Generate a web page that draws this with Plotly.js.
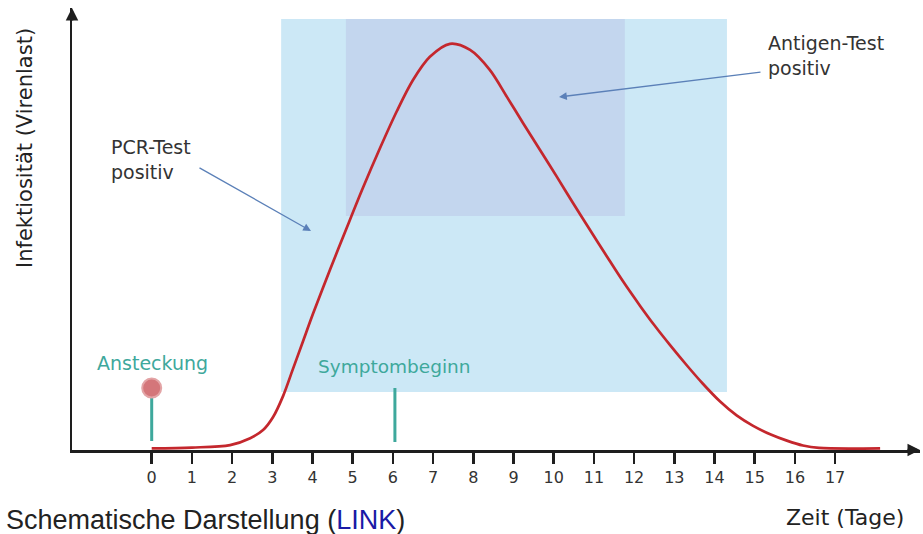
<!DOCTYPE html>
<html>
<head>
<meta charset="utf-8">
<script src="https://cdn.plot.ly/plotly-3.0.1.min.js"></script>
<style>html,body{margin:0;padding:0;background:#fff;}#chart{width:923px;height:534px;}</style>
</head>
<body>
<div id="chart"></div>
<script>
// ---- data ----
const days = [0, 1.0, 1.95, 2.45, 2.77, 3.02, 3.27, 3.51, 3.76, 4.01, 4.44, 4.86, 5.25, 5.68, 6.10, 6.50, 6.92, 7.42, 7.92, 8.41, 8.84, 9.24, 9.66, 10.08, 10.48, 10.9, 11.32, 11.72, 12.15, 12.5, 12.9, 13.32, 13.7, 14.14, 14.55, 14.95, 15.4, 15.8, 16.2, 16.6, 18.12];
const viralLoad = [0.4, 0.6, 1.2, 2.9, 4.9, 8.1, 13.3, 19.8, 26.6, 33.4, 44.4, 54.8, 64.3, 74.2, 83.3, 90.9, 96.6, 99.8, 98.3, 93.4, 86.7, 80.3, 73.7, 67.1, 60.7, 54.1, 47.6, 41.5, 35.4, 30.7, 25.7, 20.7, 16.4, 11.9, 8.5, 6.0, 3.8, 2.3, 1.1, 0.5, 0.4];
const tickDays = [0,1,2,3,4,5,6,7,8,9,10,11,12,13,14,15,16,17];
const tickLabels = tickDays.map(String);
const pcrWindow = [3.22, 14.31];      // days, PCR test positive
const antigenWindow = [4.83, 11.77];  // days, antigen test positive
const infectionDay = [0];
const symptomOnsetDay = [6.05];

// ---- geometry helpers (pixel -> data / paper) ----
const X0 = 151.7, DX = 40.2, AX_Y = 450, DY = 4.07;
const px2x = p => (p - X0) / DX;
const py2y = p => (AX_Y - p) / DY;
const PL = 72, PW = 848, PT = 8, PH = 442;
const px2p = p => (p - PL) / PW;
const py2p = p => (PT + PH - p) / PH;

const teal = '#3ea89c';
const txt = '#333333';
const F = 'DejaVu Sans, Verdana, sans-serif';

const traces = [
  { x: days, y: viralLoad, mode: 'lines', line: {color: '#c4272d', width: 2.7, shape: 'spline', smoothing: 0.9}, hoverinfo: 'skip' },
  { x: [infectionDay[0], infectionDay[0]], y: [py2y(398), py2y(441)], mode: 'lines', line: {color: teal, width: 3}, hoverinfo: 'skip' },
  { x: [symptomOnsetDay[0], symptomOnsetDay[0]], y: [py2y(388), py2y(442)], mode: 'lines', line: {color: teal, width: 3}, hoverinfo: 'skip' },
  { x: infectionDay, y: [py2y(388)], mode: 'markers', marker: {size: 19, color: '#d4767a', line: {color: '#e3a4a6', width: 2}}, hoverinfo: 'skip' }
];

const layout = {
  width: 923, height: 534,
  margin: {l: PL, r: 923 - PL - PW, t: PT, b: 534 - PT - PH},
  paper_bgcolor: '#ffffff', plot_bgcolor: '#ffffff',
  showlegend: false,
  xaxis: {
    range: [px2x(PL), px2x(PL + PW)], showgrid: false, zeroline: false,
    showline: true, linecolor: '#1e1e1e', linewidth: 2.5,
    ticks: 'outside', ticklen: 11, tickwidth: 2.5, tickcolor: '#1e1e1e',
    tickvals: tickDays, ticktext: tickLabels,
    tickfont: {family: F, size: 16, color: txt}
  },
  yaxis: {
    range: [0, py2y(PT)], showgrid: false, zeroline: false,
    showline: true, linecolor: '#1e1e1e', linewidth: 2.5,
    showticklabels: false, ticks: ''
  },
  shapes: [
    { type: 'rect', layer: 'below', xref: 'x', yref: 'y', x0: pcrWindow[0], x1: pcrWindow[1], y0: py2y(392), y1: py2y(19), fillcolor: '#cce8f6', line: {width: 0} },
    { type: 'rect', layer: 'below', xref: 'x', yref: 'y', x0: antigenWindow[0], x1: antigenWindow[1], y0: py2y(216), y1: py2y(19), fillcolor: '#c3d6ee', line: {width: 0} }
  ],
  annotations: [
    // axis arrowheads
    { x: 1, y: 0, xref: 'paper', yref: 'paper', ax: -14, ay: 0, text: '', showarrow: true, arrowhead: 2, arrowsize: 1, arrowwidth: 2.5, arrowcolor: '#1e1e1e' },
    { x: 0, y: 1, xref: 'paper', yref: 'paper', ax: 0, ay: 14, text: '', showarrow: true, arrowhead: 2, arrowsize: 1, arrowwidth: 2.5, arrowcolor: '#1e1e1e' },
    // pointer arrows
    { x: px2x(311), y: py2y(231), axref: 'x', ayref: 'y', ax: px2x(198), ay: py2y(167), text: '', showarrow: true, arrowhead: 2, arrowsize: 1.2, arrowwidth: 1.3, arrowcolor: '#5b80b8' },
    { x: px2x(559), y: py2y(97), axref: 'x', ayref: 'y', ax: px2x(762), ay: py2y(72), text: '', showarrow: true, arrowhead: 2, arrowsize: 1.2, arrowwidth: 1.3, arrowcolor: '#5b80b8' },
    // labels
    { x: px2x(109), y: py2y(159), xanchor: 'left', yanchor: 'middle', align: 'left', text: 'PCR-Test<br>positiv', showarrow: false, font: {family: F, size: 19, color: txt} },
    { x: px2x(766), y: py2y(55), xanchor: 'left', yanchor: 'middle', align: 'left', text: 'Antigen-Test<br>positiv', showarrow: false, font: {family: F, size: 19, color: txt} },
    { x: px2x(152), y: py2y(363), xanchor: 'center', yanchor: 'middle', text: 'Ansteckung', showarrow: false, font: {family: F, size: 19, color: teal} },
    { x: px2x(394), y: py2y(366), xanchor: 'center', yanchor: 'middle', text: 'Symptombeginn', showarrow: false, font: {family: F, size: 18.5, color: teal} },
    { x: px2p(845), y: py2p(517), xref: 'paper', yref: 'paper', xanchor: 'center', yanchor: 'middle', text: 'Zeit (Tage)', showarrow: false, font: {family: F, size: 22, color: '#222'} },
    { x: px2p(25), y: py2p(148), xref: 'paper', yref: 'paper', xanchor: 'center', yanchor: 'middle', text: 'Infektiosität (Virenlast)', textangle: -90, showarrow: false, font: {family: F, size: 21, color: '#222'} },
    { x: px2p(4), y: py2p(520), xref: 'paper', yref: 'paper', xanchor: 'left', yanchor: 'middle', text: 'Schematische Darstellung (<span style="color:#1a1aa6">LINK</span>)', showarrow: false, font: {family: 'Liberation Sans, Arial, sans-serif', size: 27, color: '#222'} }
  ]
};

Plotly.newPlot('chart', traces, layout, {displayModeBar: false, staticPlot: true});
</script>
</body>
</html>
